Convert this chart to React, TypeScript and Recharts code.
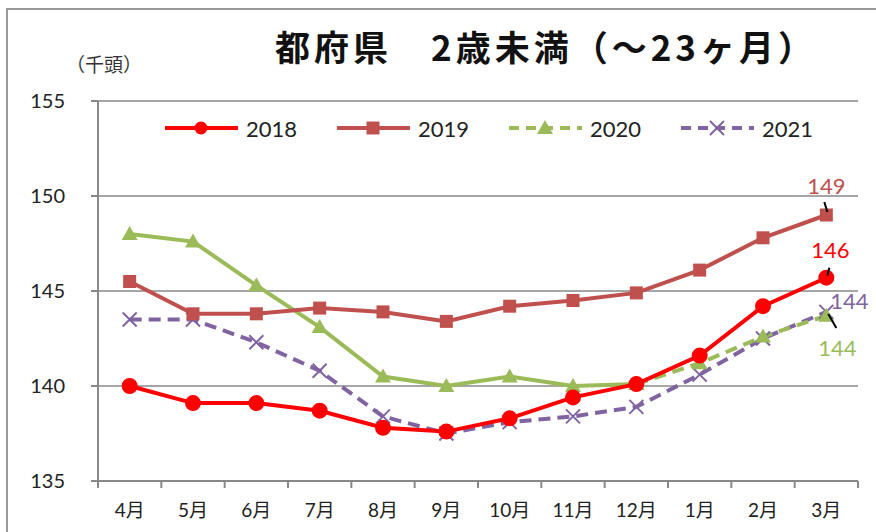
import React from "react";
import {
  LineChart,
  Line,
  XAxis,
  YAxis,
  CartesianGrid,
  LabelList,
} from "recharts";

const months = ["4月", "5月", "6月", "7月", "8月", "9月", "10月", "11月", "12月", "1月", "2月", "3月"];
const y2018 = [140.0, 139.1, 139.1, 138.7, 137.8, 137.6, 138.3, 139.4, 140.1, 141.6, 144.2, 145.7];
const y2019 = [145.5, 143.8, 143.8, 144.1, 143.9, 143.4, 144.2, 144.5, 144.9, 146.1, 147.8, 149.0];
const y2020 = [148.0, 147.6, 145.3, 143.1, 140.5, 140.0, 140.5, 140.0, 140.1, 141.2, 142.6, 143.7];
const y2021 = [143.5, 143.5, 142.3, 140.8, 138.4, 137.5, 138.1, 138.4, 138.9, 140.6, 142.5, 143.9];
const yTicks = [135, 140, 145, 150, 155];

// 2020 is drawn solid up to 12月, dashed afterwards
const SPLIT = 8;

const data = months.map((m, i) => ({
  month: m,
  y2018: y2018[i],
  y2019: y2019[i],
  y2020a: i <= SPLIT ? y2020[i] : null,
  y2020b: i >= SPLIT ? y2020[i] : null,
  y2021: y2021[i],
}));

const RED = "#ff0000";
const BROWN = "#c0504d";
const GREEN = "#9bbb59";
const PURPLE = "#8064a2";
const FONT = "Lato, 'Noto Sans CJK JP', sans-serif";
const JP = "'Noto Sans CJK JP', sans-serif";

const Square = (props: any) => {
  const { cx, cy } = props;
  if (cx == null || cy == null) return null;
  return <rect x={cx - 6.5} y={cy - 6.5} width={13} height={13} fill={BROWN} />;
};

const Triangle = (props: any) => {
  const { cx, cy } = props;
  if (cx == null || cy == null) return null;
  return <path d={`M${cx},${cy - 8} L${cx + 8},${cy + 6} L${cx - 8},${cy + 6} Z`} fill={GREEN} />;
};

const Cross = (props: any) => {
  const { cx, cy } = props;
  if (cx == null || cy == null) return null;
  return (
    <path
      d={`M${cx - 7},${cy - 7} L${cx + 7},${cy + 7} M${cx - 7},${cy + 7} L${cx + 7},${cy - 7}`}
      stroke={PURPLE}
      strokeWidth={2}
    />
  );
};

const lastLabel = (color: string, dx: number, dy: number, lead: [number, number, number, number]) => (props: any) => {
  const { x, y, value, index } = props;
  if (index !== months.length - 1 || value == null) return null;
  return (
    <g>
      <line x1={x + lead[0]} y1={y + lead[1]} x2={x + lead[2]} y2={y + lead[3]} stroke="#000" strokeWidth={2} />
      <text x={x + dx} y={y + dy} fill={color} fontSize={22} fontFamily={FONT} textAnchor="middle" dominantBaseline="central">
        {Math.round(value)}
      </text>
    </g>
  );
};

const MonthTick = (props: any) => {
  const { x, y, payload, index, width } = props;
  const band = width / months.length;
  return (
    <g>
      <line x1={x - band / 2} y1={y - 8} x2={x - band / 2} y2={y - 1} stroke="#888" strokeWidth={2} />
      {index === months.length - 1 && (
        <line x1={x + band / 2} y1={y - 8} x2={x + band / 2} y2={y - 1} stroke="#888" strokeWidth={2} />
      )}
      <text x={x} y={y + 20} fill="#222" fontSize={19} fontFamily={FONT} textAnchor="middle" dominantBaseline="central">
        {payload.value}
      </text>
    </g>
  );
};

const legendItems = [
  { name: "2018", color: RED, dash: undefined, mark: "circle" },
  { name: "2019", color: BROWN, dash: undefined, mark: "square" },
  { name: "2020", color: GREEN, dash: "10 7", mark: "triangle" },
  { name: "2021", color: PURPLE, dash: "10 7", mark: "cross" },
];

const LegendBox = () => (
  <svg width={700} height={32} style={{ position: "absolute", left: 165, top: 112 }}>
    {legendItems.map((it, i) => {
      const x0 = i * 172;
      const cx = x0 + 36;
      const cy = 16;
      return (
        <g key={it.name}>
          <line x1={x0} y1={cy} x2={x0 + 73} y2={cy} stroke={it.color} strokeWidth={4} strokeDasharray={it.dash} />
          {it.mark === "circle" && <circle cx={cx} cy={cy} r={6.5} fill={it.color} />}
          {it.mark === "square" && <Square cx={cx} cy={cy} />}
          {it.mark === "triangle" && <Triangle cx={cx} cy={cy} />}
          {it.mark === "cross" && <Cross cx={cx} cy={cy} />}
          <text x={x0 + 81} y={cy} fill="#222" fontSize={22} fontFamily={FONT} dominantBaseline="central">
            {it.name}
          </text>
        </g>
      );
    })}
  </svg>
);

export default function App() {
  return (
    <div style={{ position: "absolute", left: 0, top: 0, width: 876, height: 532, background: "#fff", overflow: "hidden", fontFamily: FONT }}>
      <div style={{ position: "absolute", left: 6, top: 8, width: 880, height: 540, borderTop: "2px solid #999", borderLeft: "2px solid #999" }} />
      <div style={{ position: "absolute", left: 275, top: 28, fontSize: 35, lineHeight: "35px", letterSpacing: 4, fontWeight: 700, color: "#111", fontFamily: JP, whiteSpace: "nowrap" }}>
        都府県　2歳未満（～23ヶ月）
      </div>
      <div style={{ position: "absolute", left: 66, top: 50, fontSize: 19, color: "#333", fontFamily: JP }}>
        （千頭）
      </div>
      <div style={{ position: "absolute", left: 0, top: 0 }}>
        <LineChart width={876} height={532} data={data} margin={{ top: 101, right: 18, bottom: 0, left: 38 }}>
          <CartesianGrid vertical={false} stroke="#888" strokeWidth={1.5} />
          <XAxis
            dataKey="month"
            scale="band"
            tick={<MonthTick />}
            tickLine={false}
            axisLine={{ stroke: "#888", strokeWidth: 2 }}
            interval={0}
            height={51}
          />
          <YAxis
            domain={[135, 155]}
            ticks={yTicks}
            width={60}
            tickSize={7}
            tickMargin={26}
            tickLine={{ stroke: "#888", strokeWidth: 2 }}
            axisLine={{ stroke: "#888", strokeWidth: 2 }}
            tick={{ fill: "#222", fontSize: 20, fontFamily: FONT }}
            allowDataOverflow
          />
          <Line dataKey="y2021" stroke={PURPLE} strokeWidth={4} strokeDasharray="12 7" dot={<Cross />} isAnimationActive={false}>
            <LabelList dataKey="y2021" content={lastLabel(PURPLE, 23, -11, [2, 2, 10, 16])} />
          </Line>
          <Line dataKey="y2020a" stroke={GREEN} strokeWidth={4} dot={<Triangle />} isAnimationActive={false} connectNulls={false} />
          <Line dataKey="y2020b" stroke={GREEN} strokeWidth={4} strokeDasharray="12 7" dot={<Triangle />} isAnimationActive={false} connectNulls={false}>
            <LabelList dataKey="y2020b" content={lastLabel(GREEN, 11, 32, [0, 0, 0, 0])} />
          </Line>
          <Line dataKey="y2019" stroke={BROWN} strokeWidth={4} dot={<Square />} isAnimationActive={false}>
            <LabelList dataKey="y2019" content={lastLabel(BROWN, 0, -30, [-2, -13, 1, -3])} />
          </Line>
          <Line dataKey="y2018" stroke={RED} strokeWidth={4} dot={{ r: 6, fill: RED, stroke: RED }} isAnimationActive={false}>
            <LabelList dataKey="y2018" content={lastLabel(RED, 4, -28, [3, -10, 1, -2])} />
          </Line>
        </LineChart>
      </div>
      <LegendBox />
    </div>
  );
}
